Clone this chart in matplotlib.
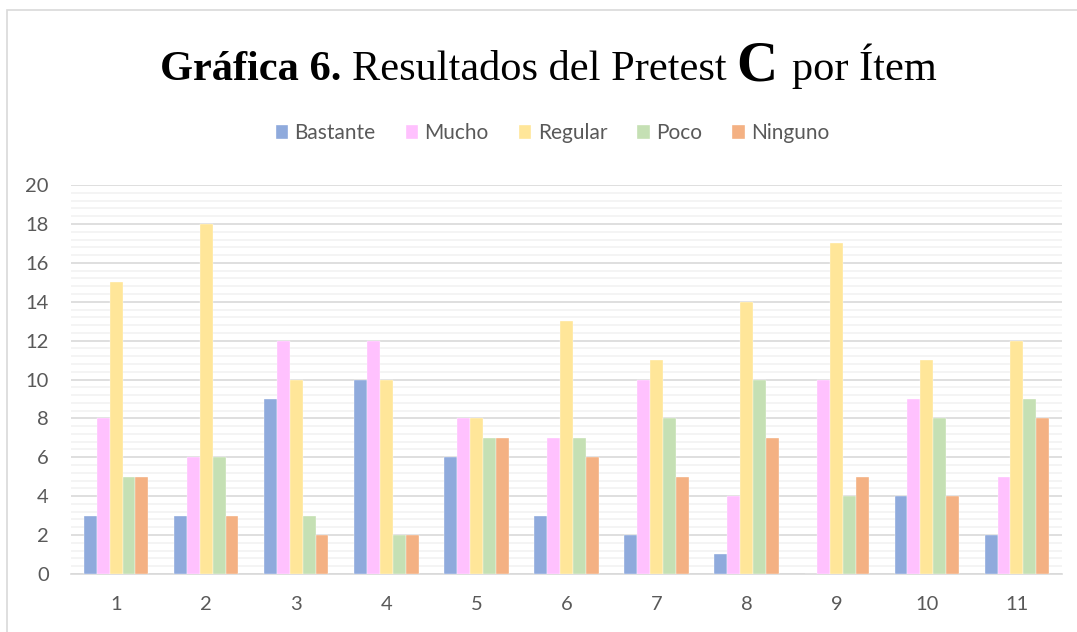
import numpy as np
import matplotlib
matplotlib.use("Agg")
import matplotlib.pyplot as plt
from matplotlib.offsetbox import TextArea, HPacker, AnchoredOffsetbox
from matplotlib.patches import Rectangle
from matplotlib.ticker import MultipleLocator

# Datos
items = ["1", "2", "3", "4", "5", "6", "7", "8", "9", "10", "11"]
series_names = ["Bastante", "Mucho", "Regular", "Poco", "Ninguno"]
bastante = [3, 3, 9, 10, 6, 3, 2, 1, 0, 4, 2]
mucho = [8, 6, 12, 12, 8, 7, 10, 4, 10, 9, 5]
regular = [15, 18, 10, 10, 8, 13, 11, 14, 17, 11, 12]
poco = [5, 6, 3, 2, 7, 7, 8, 10, 4, 8, 9]
ninguno = [5, 3, 2, 2, 7, 6, 5, 7, 5, 4, 8]
colors = ["#8faadc", "#ffc1fe", "#ffe699", "#c5e0b4", "#f4b183"]

values = [bastante, mucho, regular, poco, ninguno]

fig = plt.figure(figsize=(10.77, 6.32), dpi=100)
ax = fig.add_axes([0.066, 0.092, 0.92, 0.615])

x = np.arange(len(items))
bar_w = 0.143
for i, (name, vals) in enumerate(zip(series_names, values)):
    offset = (i - 2) * bar_w
    ax.bar(x + offset, vals, bar_w, color=colors[i], label=name,
           edgecolor="#ffffff", linewidth=0.25, zorder=3)

ax.set_xlim(-0.5, len(items) - 0.5)
ax.set_ylim(0, 20)
ax.yaxis.set_major_locator(MultipleLocator(2))
ax.yaxis.set_minor_locator(MultipleLocator(0.4))
ax.grid(axis="y", which="major", color="#d9d9d9", linewidth=1.2, zorder=0)
ax.grid(axis="y", which="minor", color="#f2f2f2", linewidth=1.2, zorder=0)
ax.set_xticks(x)
ax.set_xticklabels(items)
for s in ["top", "right", "left"]:
    ax.spines[s].set_visible(False)
ax.spines["bottom"].set_color("#d9d9d9")
ax.spines["bottom"].set_linewidth(1.2)
ax.tick_params(axis="both", which="both", length=0, labelsize=14.5,
               labelcolor="#595959")
ax.tick_params(axis="y", pad=16)
ax.tick_params(axis="x", pad=16)
for lab in ax.get_xticklabels() + ax.get_yticklabels():
    lab.set_fontfamily("Lato")

# Leyenda
leg = fig.legend(loc="center", bbox_to_anchor=(0.513, 0.789), ncol=5,
                 frameon=False, handlelength=0.6, handleheight=0.6,
                 handletextpad=0.3, columnspacing=1.45,
                 prop={"family": "Lato", "size": 15})
for t in leg.get_texts():
    t.set_color("#595959")

# Titulo con fuentes mezcladas
serif = "Liberation Serif"
parts = [
    TextArea("Gráfica 6. ", textprops=dict(family=serif, weight="bold", size=30.5)),
    TextArea("Resultados del Pretest ", textprops=dict(family=serif, size=30.5)),
    TextArea("C ", textprops=dict(family=serif, weight="bold", size=41)),
    TextArea("por Ítem", textprops=dict(family=serif, size=30.5)),
]
title_box = HPacker(children=parts, align="baseline", pad=0, sep=0)
anchored = AnchoredOffsetbox(loc="center", child=title_box, frameon=False,
                             bbox_to_anchor=(0.509, 0.895),
                             bbox_transform=fig.transFigure, borderpad=0, pad=0)
fig.add_artist(anchored)

# Marco exterior
fig.add_artist(Rectangle((7 / 1077, -0.05), 1.2, 1 - 10 / 632 + 0.05,
                         transform=fig.transFigure, fill=False,
                         edgecolor="#d9d9d9", linewidth=1.2))

fig.savefig("out.png", dpi=100)
